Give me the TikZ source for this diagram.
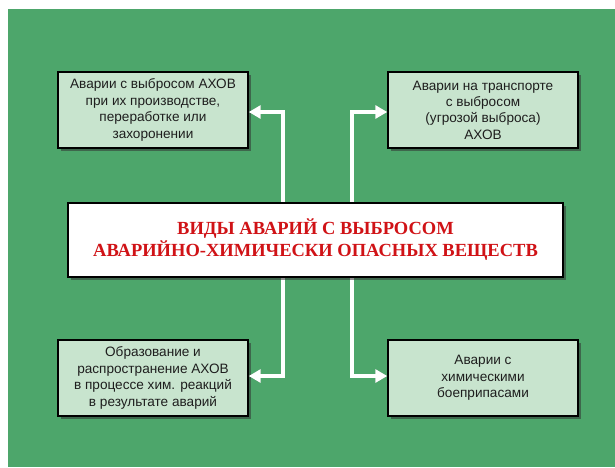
\documentclass[tikz,border=0pt]{standalone}
\usepackage{fontspec}
\setmainfont{Liberation Sans}
\newfontfamily\titlefont{Liberation Serif}
\usetikzlibrary{arrows.meta,shadows}
\definecolor{bggreen}{RGB}{77,166,107}
\definecolor{boxfill}{RGB}{200,228,206}
\definecolor{titlered}{RGB}{208,18,22}
\definecolor{txt}{RGB}{30,30,30}
\tikzset{
  smallbox/.style={draw=black, line width=1.4pt, fill=boxfill, minimum width=190pt, minimum height=76pt,
    inner sep=0pt, align=center, text=txt, font=\fontsize{13.6}{16.4}\selectfont,
    drop shadow={shadow xshift=2.5pt, shadow yshift=-2.5pt, opacity=0.55, fill=black!80}},
  bigbox/.style={draw=black, line width=1.8pt, fill=white, minimum width=495pt, minimum height=74pt,
    inner sep=0pt, align=center, text=titlered, font=\titlefont\bfseries\fontsize{18.5}{22}\selectfont,
    drop shadow={shadow xshift=3pt, shadow yshift=-3pt, opacity=0.55, fill=black!80}},
  wline/.style={draw=white, line width=3.6pt, line join=miter},
  wshadow/.style={draw=black!70, opacity=0.35, line width=3.6pt, line join=miter},
  tips/.style={{Triangle[length=12pt,width=13pt]}-{Triangle[length=12pt,width=13pt]}}
}
\begin{document}
\begin{tikzpicture}[x=1pt,y=-1pt]
\useasboundingbox (0,0) rectangle (615,467);
\fill[white] (0,0) rectangle (615,467);
\fill[bggreen] (8,9) rectangle (615,467);

\node[smallbox] (tl) at (153,110) {Аварии с выбросом АХОВ\\при их производстве,\\переработке или\\захоронении};
\node[smallbox] (tr) at (483,110) {Аварии на транспорте\\с выбросом\\(угрозой выброса)\\АХОВ};
\node[smallbox] (bl) at (153,378) {Образование и\\распространение АХОВ\\в процессе хим. реакций\\в результате аварий};
\node[smallbox] (br) at (483,378) {Аварии с\\химическими\\боеприпасами};

\coordinate (lt) at (283,112);
\coordinate (lb) at (283,376);
\coordinate (rt) at (352,112);
\coordinate (rb) at (352,376);

\begin{scope}[xshift=1.2pt,yshift=-1.2pt]
\draw[wshadow, tips] (tl.east |- lt) -- (lt) -- (lb) -- (bl.east |- lb);
\draw[wshadow, tips] (tr.west |- rt) -- (rt) -- (rb) -- (br.west |- rb);
\end{scope}
\draw[wline, tips] (tl.east |- lt) -- (lt) -- (lb) -- (bl.east |- lb);
\draw[wline, tips] (tr.west |- rt) -- (rt) -- (rb) -- (br.west |- rb);

\node[bigbox] (c) at (315.5,240) {ВИДЫ АВАРИЙ С ВЫБРОСОМ\\АВАРИЙНО-ХИМИЧЕСКИ ОПАСНЫХ ВЕЩЕСТВ};
\end{tikzpicture}
\end{document}
